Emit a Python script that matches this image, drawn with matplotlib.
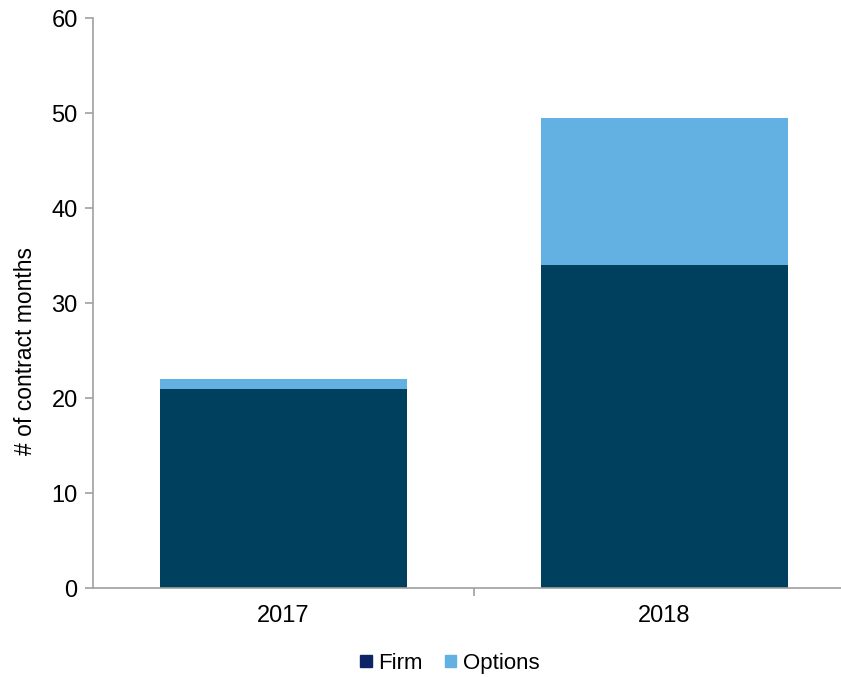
import numpy as np
import matplotlib.pyplot as plt

plt.rcParams['font.family'] = ['Liberation Sans', 'DejaVu Sans']

years = ['2017', '2018']
firm = [21, 34]
options = [1, 15.5]

firm_color = '#00405f'
options_color = '#63b0e3'

fig = plt.figure(figsize=(8.41, 6.77), dpi=100)
ax = fig.add_axes([0.1106, 0.131, 0.906, 0.842])

x = np.arange(len(years))
ax.bar(x, firm, width=0.65, color=firm_color, label='Firm')
ax.bar(x, options, width=0.65, bottom=firm, color=options_color, label='Options')

ax.set_xlim(-0.5, 1.5)
ax.set_ylim(0, 60)
ax.set_yticks(range(0, 61, 10))
ax.set_xticks(x)
ax.set_xticklabels(years)
ax.set_xticks([0.5], minor=True)

for side in ['top', 'right']:
    ax.spines[side].set_visible(False)
for side in ['left', 'bottom']:
    ax.spines[side].set_color('#a0a0a0')
    ax.spines[side].set_linewidth(1.2)

ax.tick_params(axis='y', direction='out', length=6, width=1.2, color='#a0a0a0',
               labelsize=17, pad=5)
ax.tick_params(axis='x', which='major', length=0, labelsize=17, pad=12)
ax.tick_params(axis='x', which='minor', direction='out', length=6, width=1.2,
               color='#a0a0a0')

ax.set_ylabel('# of contract months', fontsize=16.5)
ax.yaxis.set_label_coords(-0.073, 0.416)

# legend centred under the plot
h1 = plt.Rectangle((0, 0), 1, 1, color='#0d2566')
h2 = plt.Rectangle((0, 0), 1, 1, color=options_color)
fig.legend([h1, h2], ['Firm', 'Options'], loc='center', bbox_to_anchor=(0.535, 0.02),
           ncol=2, frameon=False, fontsize=16, handlelength=0.5, handleheight=0.5,
           handletextpad=0.3, columnspacing=1.0)

fig.savefig('out.png', dpi=100)
